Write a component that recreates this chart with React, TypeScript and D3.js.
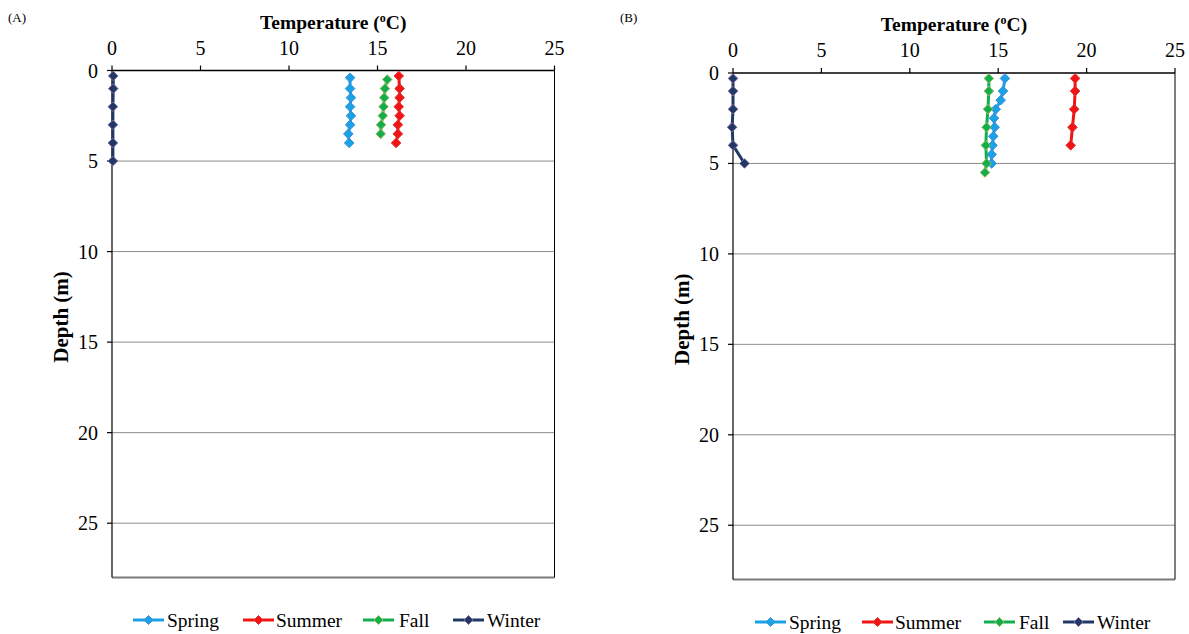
import React from "react";
import * as d3 from "d3";

type Pt = { t: number; d: number };

// Panel A data
const springA_depth = [0.4, 1, 1.5, 2, 2.5, 3, 3.5, 4];
const springA_temp = [13.45, 13.45, 13.5, 13.45, 13.5, 13.45, 13.35, 13.4];
const summerA_depth = [0.3, 1, 1.5, 2, 2.5, 3, 3.5, 4];
const summerA_temp = [16.2, 16.25, 16.25, 16.2, 16.25, 16.15, 16.15, 16.05];
const fallA_depth = [0.5, 1, 1.5, 2, 2.5, 3, 3.5];
const fallA_temp = [15.55, 15.42, 15.38, 15.34, 15.3, 15.2, 15.18];
const winterA_depth = [0.3, 1, 2, 3, 4, 5];
const winterA_temp = [0.07, 0.07, 0.05, 0.05, 0.05, 0.05];

// Panel B data
const springB_depth = [0.3, 1, 1.5, 2, 2.5, 3, 3.5, 4, 4.5, 5];
const springB_temp = [15.38, 15.27, 15.14, 14.86, 14.76, 14.8, 14.72, 14.68, 14.63, 14.63];
const summerB_depth = [0.3, 1, 2, 3, 4];
const summerB_temp = [19.35, 19.35, 19.3, 19.2, 19.1];
const fallB_depth = [0.3, 1, 2, 3, 4, 5, 5.5];
const fallB_temp = [14.47, 14.47, 14.42, 14.34, 14.3, 14.34, 14.25];
const winterB_depth = [0.3, 1, 2, 3, 4, 5];
const winterB_temp = [0.0, 0.0, 0.0, -0.05, 0.0, 0.65];

const seriesNames = ["Spring", "Summer", "Fall", "Winter"];
const xTicks = [0, 5, 10, 15, 20, 25];
const yTicks = [0, 5, 10, 15, 20, 25];

const styles: Record<string, { line: string; fill: string; stroke: string }> = {
  Spring: { line: "#1BA1E6", fill: "#1BA1E6", stroke: "#3C8FD8" },
  Summer: { line: "#F01414", fill: "#F01414", stroke: "#E03030" },
  Fall: { line: "#12AE4E", fill: "#12AE4E", stroke: "#9BBB59" },
  Winter: { line: "#1F3864", fill: "#1F3864", stroke: "#8064A2" },
};

const zip = (d: number[], t: number[]): Pt[] => d.map((dd, i) => ({ d: dd, t: t[i] }));

const dataA: Pt[][] = [
  zip(springA_depth, springA_temp),
  zip(summerA_depth, summerA_temp),
  zip(fallA_depth, fallA_temp),
  zip(winterA_depth, winterA_temp),
];
const dataB: Pt[][] = [
  zip(springB_depth, springB_temp),
  zip(summerB_depth, summerB_temp),
  zip(fallB_depth, fallB_temp),
  zip(winterB_depth, winterB_temp),
];

const FONT = "'Liberation Serif', 'Times New Roman', serif";

const diamond = (cx: number, cy: number, r: number) =>
  `M${cx},${cy - r}L${cx + r},${cy}L${cx},${cy + r}L${cx - r},${cy}Z`;

function Panel(props: {
  label: string;
  labelX: number;
  left: number;
  right: number;
  top: number;
  bottom: number;
  data: Pt[][];
  legendX: number[];
  legendTextX: number[];
  legendY: number;
}) {
  const { label, left, right, top, bottom, data } = props;
  const x = d3.scaleLinear().domain([0, 25]).range([left, right]);
  const y = d3.scaleLinear().domain([0, 28]).range([top, bottom]);
  const line = d3
    .line<Pt>()
    .x((p) => x(p.t))
    .y((p) => y(p.d));
  const cx = (left + right) / 2;
  return (
    <g>
      <text x={props.labelX} y={22} fontSize={13} fontFamily={FONT}>
        {label}
      </text>
      <text x={cx} y={top - 42} textAnchor="middle" fontSize={19.5} fontWeight="bold" fontFamily={FONT}>
        Temperature (
        <tspan fontSize={12} dy={-7}>o</tspan>
        <tspan dy={7}>C)</tspan>
      </text>
      {/* gridlines */}
      {yTicks
        .filter((t) => t > 0)
        .map((t) => (
          <line key={t} x1={left} x2={right} y1={y(t)} y2={y(t)} stroke="#8C8C8C" strokeWidth={1} />
        ))}
      {/* borders */}
      <line x1={left} x2={right} y1={bottom} y2={bottom} stroke="#7A7A7A" strokeWidth={2} />
      <line x1={right} x2={right} y1={top} y2={bottom} stroke="#000" strokeWidth={1} />
      {/* axes */}
      <line x1={left} x2={right} y1={top} y2={top} stroke="#000" strokeWidth={1.5} />
      <line x1={left} x2={left} y1={top} y2={bottom} stroke="#000" strokeWidth={1.2} />
      {xTicks.map((t) => (
        <g key={"x" + t}>
          <line x1={x(t)} x2={x(t)} y1={top} y2={top - 5} stroke="#000" strokeWidth={1.2} />
          <text x={x(t)} y={top - 16} textAnchor="middle" fontSize={20} fontFamily={FONT}>
            {t}
          </text>
        </g>
      ))}
      {yTicks.map((t) => (
        <g key={"y" + t}>
          <line x1={left - 5} x2={left} y1={y(t)} y2={y(t)} stroke="#000" strokeWidth={1.2} />
          <text x={left - 14} y={y(t) + 7} textAnchor="end" fontSize={20} fontFamily={FONT}>
            {t}
          </text>
        </g>
      ))}
      <text
        transform={`translate(${left - 44},${(top + bottom) / 2 - 7}) rotate(-90)`}
        textAnchor="middle"
        fontSize={21}
        fontWeight="bold"
        fontFamily={FONT}
      >
        Depth (m)
      </text>
      {/* series */}
      {data.map((pts, i) => {
        const s = styles[seriesNames[i]];
        return (
          <g key={i}>
            <path d={line(pts) || ""} fill="none" stroke={s.line} strokeWidth={3} />
            {pts.map((p, j) => (
              <path key={j} d={diamond(x(p.t), y(p.d), 4.8)} fill={s.fill} stroke={s.stroke} strokeWidth={1} />
            ))}
          </g>
        );
      })}
      {/* legend */}
      {seriesNames.map((n, i) => {
        const s = styles[n];
        const lx = props.legendX[i];
        return (
          <g key={n}>
            <line x1={lx} x2={lx + 31} y1={props.legendY} y2={props.legendY} stroke={s.line} strokeWidth={3} />
            <path d={diamond(lx + 15.5, props.legendY, 4.5)} fill={s.fill} stroke={s.stroke} strokeWidth={1} />
            <text x={props.legendTextX[i]} y={props.legendY + 6.5} fontSize={19.5} fontFamily={FONT}>
              {n}
            </text>
          </g>
        );
      })}
    </g>
  );
}

export default function App() {
  return (
    <svg width={1189} height={634} style={{ display: "block", position: "absolute", left: 0, top: 0, background: "#fff" }}>
      <rect width={1189} height={634} fill="#fff" />
      <Panel
        label="(A)"
        labelX={8}
        left={112}
        right={554.5}
        top={70.5}
        bottom={577.5}
        data={dataA}
        legendX={[133, 243, 363, 453]}
        legendTextX={[167, 276, 399, 487]}
        legendY={620}
      />
      <Panel
        label="(B)"
        labelX={620}
        left={733}
        right={1175}
        top={73}
        bottom={579.5}
        data={dataB}
        legendX={[755, 862, 984, 1063]}
        legendTextX={[789, 895, 1019, 1097]}
        legendY={622}
      />
    </svg>
  );
}
